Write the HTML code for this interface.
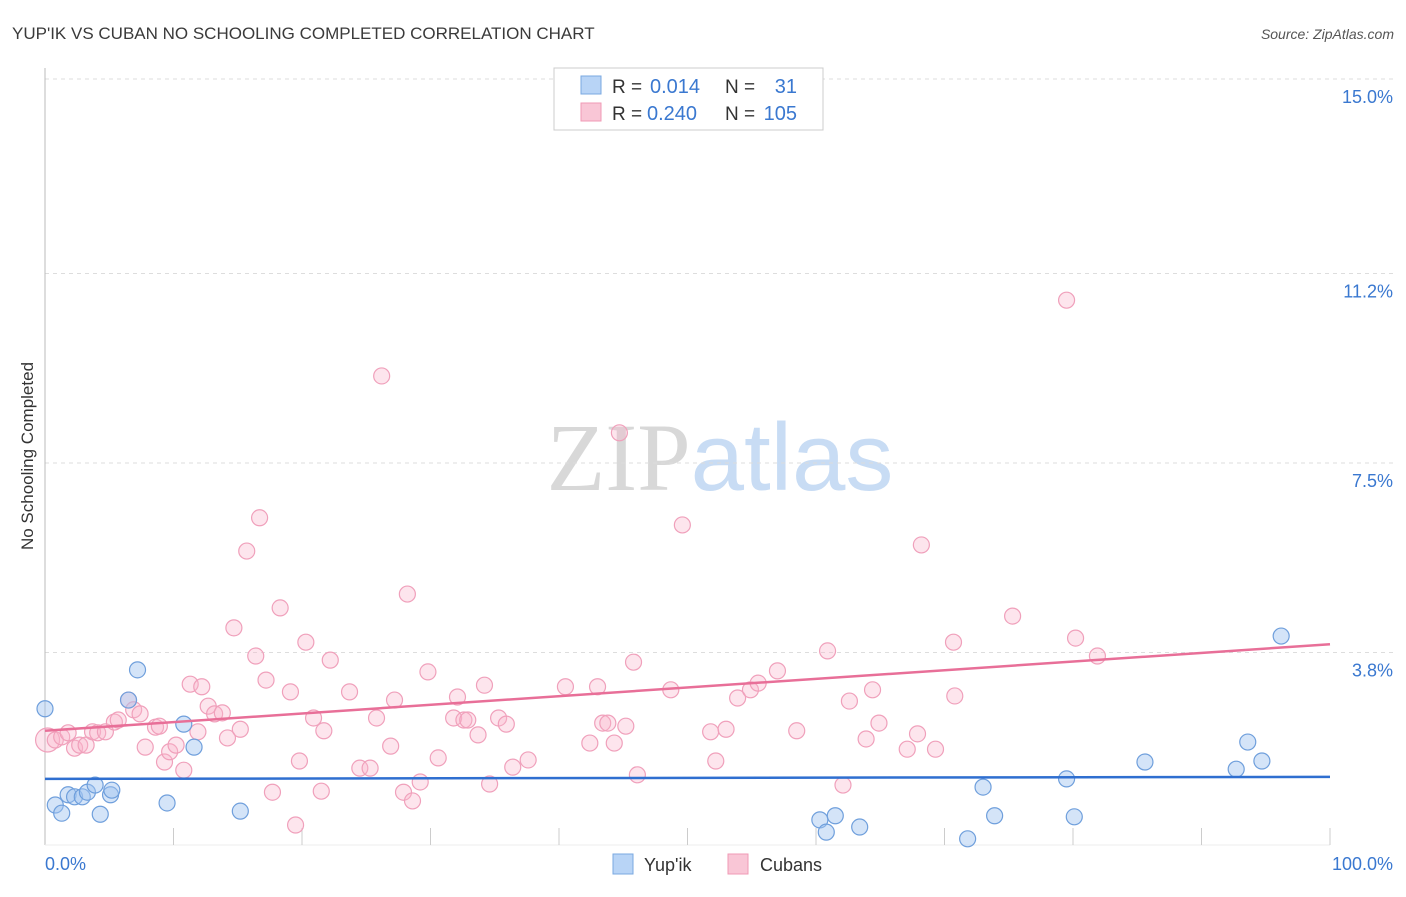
<!DOCTYPE html>
<html><head><meta charset="utf-8"><style>
body{margin:0;background:#fff;font-family:"Liberation Sans",sans-serif;}
</style></head><body>
<svg width="1406" height="892" xmlns="http://www.w3.org/2000/svg" id="svg" style="font-family:'Liberation Sans',sans-serif">
<text x="12" y="39" font-size="17" fill="#3a3a3a">YUP'IK VS CUBAN NO SCHOOLING COMPLETED CORRELATION CHART</text>
<text x="1394" y="39" font-size="14" fill="#555" text-anchor="end" font-style="italic">Source: ZipAtlas.com</text>
<text transform="translate(33,456) rotate(-90)" font-size="17" fill="#333" text-anchor="middle">No Schooling Completed</text>
<text x="720" y="490" font-size="96" text-anchor="middle"><tspan fill="#d8d8d8" font-family="Liberation Serif">ZIP</tspan><tspan fill="#c8dcf4">atlas</tspan></text>
<g id="grid"></g><g id="marks"></g>
<g>
<rect x="554" y="68" width="269" height="62" fill="#fff" stroke="#ccc"/>
<rect x="581" y="76" width="20" height="18" fill="#b8d4f6" stroke="#7aa8e0"/>
<rect x="581" y="103" width="20" height="18" fill="#f9c6d6" stroke="#f09ab5"/>
<text x="612" y="93" font-size="19" fill="#333">R =</text>
<text x="650" y="93" font-size="20" fill="#3a78d0">0.014</text>
<text x="725" y="93" font-size="19" fill="#333">N =</text>
<text x="797" y="93" font-size="20" fill="#3a78d0" text-anchor="end">31</text>
<text x="612" y="120" font-size="19" fill="#333">R =</text>
<text x="647" y="120" font-size="20" fill="#3a78d0">0.240</text>
<text x="725" y="120" font-size="19" fill="#333">N =</text>
<text x="797" y="120" font-size="20" fill="#3a78d0" text-anchor="end">105</text>
</g>
<g>
<rect x="613" y="854" width="20" height="20" fill="#b8d4f6" stroke="#7aa8e0"/>
<text x="644" y="871" font-size="18" fill="#333">Yup'ik</text>
<rect x="728" y="854" width="20" height="20" fill="#f9c6d6" stroke="#f09ab5"/>
<text x="760" y="871" font-size="18" fill="#333">Cubans</text>
</g>
</svg>
<script>
const yTicks=[15.0,11.2,7.5,3.8];
const yTickLabels=["15.0%","11.2%","7.5%","3.8%"];
const xTickCount=10;
const blueX=[0,0.8,1.3,1.8,2.3,2.9,3.3,3.9,4.3,5.1,5.2,6.5,7.2,9.5,10.8,11.6,15.2,60.3,60.8,61.5,63.4,71.8,73.0,73.9,79.5,80.1,85.6,92.7,93.6,94.7,96.2];
const blueY=[2.70,0.82,0.66,1.02,0.98,0.98,1.07,1.21,0.64,1.02,1.11,2.87,3.46,0.86,2.40,1.95,0.70,0.53,0.29,0.61,0.39,0.16,1.17,0.61,1.33,0.59,1.66,1.52,2.05,1.68,4.12];
const pinkX=[0.2,0.8,1.3,1.8,2.3,2.7,3.2,3.7,4.1,4.7,5.4,5.7,6.5,6.9,7.4,7.8,8.6,8.9,9.3,9.7,10.2,10.8,11.3,11.9,12.2,12.7,13.2,13.8,14.2,14.7,15.2,15.7,16.4,16.7,17.2,17.7,18.3,19.1,19.5,19.8,20.3,20.9,21.5,21.7,22.2,23.7,24.5,25.3,25.8,26.2,26.9,27.2,27.9,28.2,28.6,29.2,29.8,30.6,31.8,32.1,32.6,32.9,33.7,34.2,34.6,35.3,35.9,36.4,37.6,40.5,42.4,43.0,43.4,43.8,44.3,44.7,45.2,45.8,46.1,48.7,49.6,51.8,52.2,53.0,53.9,54.9,55.5,57.0,58.5,60.9,62.1,62.6,63.9,64.4,64.9,67.1,67.9,68.2,69.3,70.7,70.8,75.3,79.5,80.2,81.9];
const pinkY=[2.09,2.09,2.15,2.23,1.93,1.99,1.99,2.25,2.23,2.25,2.44,2.48,2.87,2.68,2.60,1.95,2.34,2.36,1.66,1.86,1.99,1.50,3.18,2.25,3.13,2.75,2.60,2.62,2.13,4.28,2.30,5.78,3.73,6.43,3.26,1.07,4.67,3.03,0.43,1.68,4.00,2.52,1.09,2.27,3.65,3.03,1.54,1.54,2.52,9.20,1.97,2.87,1.07,4.94,0.90,1.27,3.42,1.74,2.52,2.93,2.48,2.48,2.19,3.16,1.23,2.52,2.40,1.56,1.70,3.13,2.03,3.13,2.42,2.42,2.03,8.09,2.36,3.61,1.41,3.07,6.29,2.25,1.68,2.30,2.91,3.07,3.20,3.44,2.27,3.83,1.21,2.85,2.11,3.07,2.42,1.91,2.21,5.90,1.91,4.00,2.95,4.51,10.68,4.08,3.73];
const blueTrend=[1.33,1.37];
const pinkTrend=[2.27,3.96];
const NS='http://www.w3.org/2000/svg';
const X=v=>45+v*12.85, Y=v=>847-v*51.2;
function mk(tag,attrs,parent){const e=document.createElementNS(NS,tag);for(const k in attrs)e.setAttribute(k,attrs[k]);parent.appendChild(e);return e;}
const grid=document.getElementById('grid'), marks=document.getElementById('marks');
yTicks.forEach((t,i)=>{
 const l=mk('line',{x1:45,x2:1394,y1:Y(t),y2:Y(t),stroke:'#ddd','stroke-dasharray':'4,4'},grid);
 
 
 const tx=mk('text',{x:1393,y:Y(t)+24,'font-size':18,fill:'#3a78d0','text-anchor':'end'},grid);
 tx.textContent=yTickLabels[i];
 
 
});
const ax=mk('line',{x1:45,x2:45,y1:68,y2:845,stroke:'#bbb'},grid);


const bx=mk('line',{x1:45,x2:1330,y1:845,y2:845,stroke:'#eee'},grid);


for(let i=1;i<=xTickCount;i++){
 const t=mk('line',{x1:X(i*10),x2:X(i*10),y1:828,y2:845,stroke:'#ccc'},grid);
 
 
}
const x0=mk('text',{x:45,y:870,'font-size':18,fill:'#3a78d0'},grid);x0.textContent='0.0%';


const x1=mk('text',{x:1393,y:870,'font-size':18,fill:'#3a78d0','text-anchor':'end'},grid);x1.textContent='100.0%';


pinkX.forEach((v,i)=>{
 const c=mk('circle',{cx:X(v),cy:Y(pinkY[i]),r:i===0?12:8,fill:'rgba(248,180,202,0.35)',stroke:'#f0a0bb','stroke-width':1.2},marks);
 
 
});
blueX.forEach((v,i)=>{
 const c=mk('circle',{cx:X(v),cy:Y(blueY[i]),r:8,fill:'rgba(160,196,240,0.45)',stroke:'#6f9fdc','stroke-width':1.2},marks);
 
 
});
const bl=mk('line',{x1:X(0),x2:X(100),y1:Y(blueTrend[0]),y2:Y(blueTrend[1]),stroke:'#2f6fd0','stroke-width':2.5},marks);


const pl=mk('line',{x1:X(0),x2:X(100),y1:Y(pinkTrend[0]),y2:Y(pinkTrend[1]),stroke:'#e86f98','stroke-width':2.5},marks);


</script>
</body></html>
